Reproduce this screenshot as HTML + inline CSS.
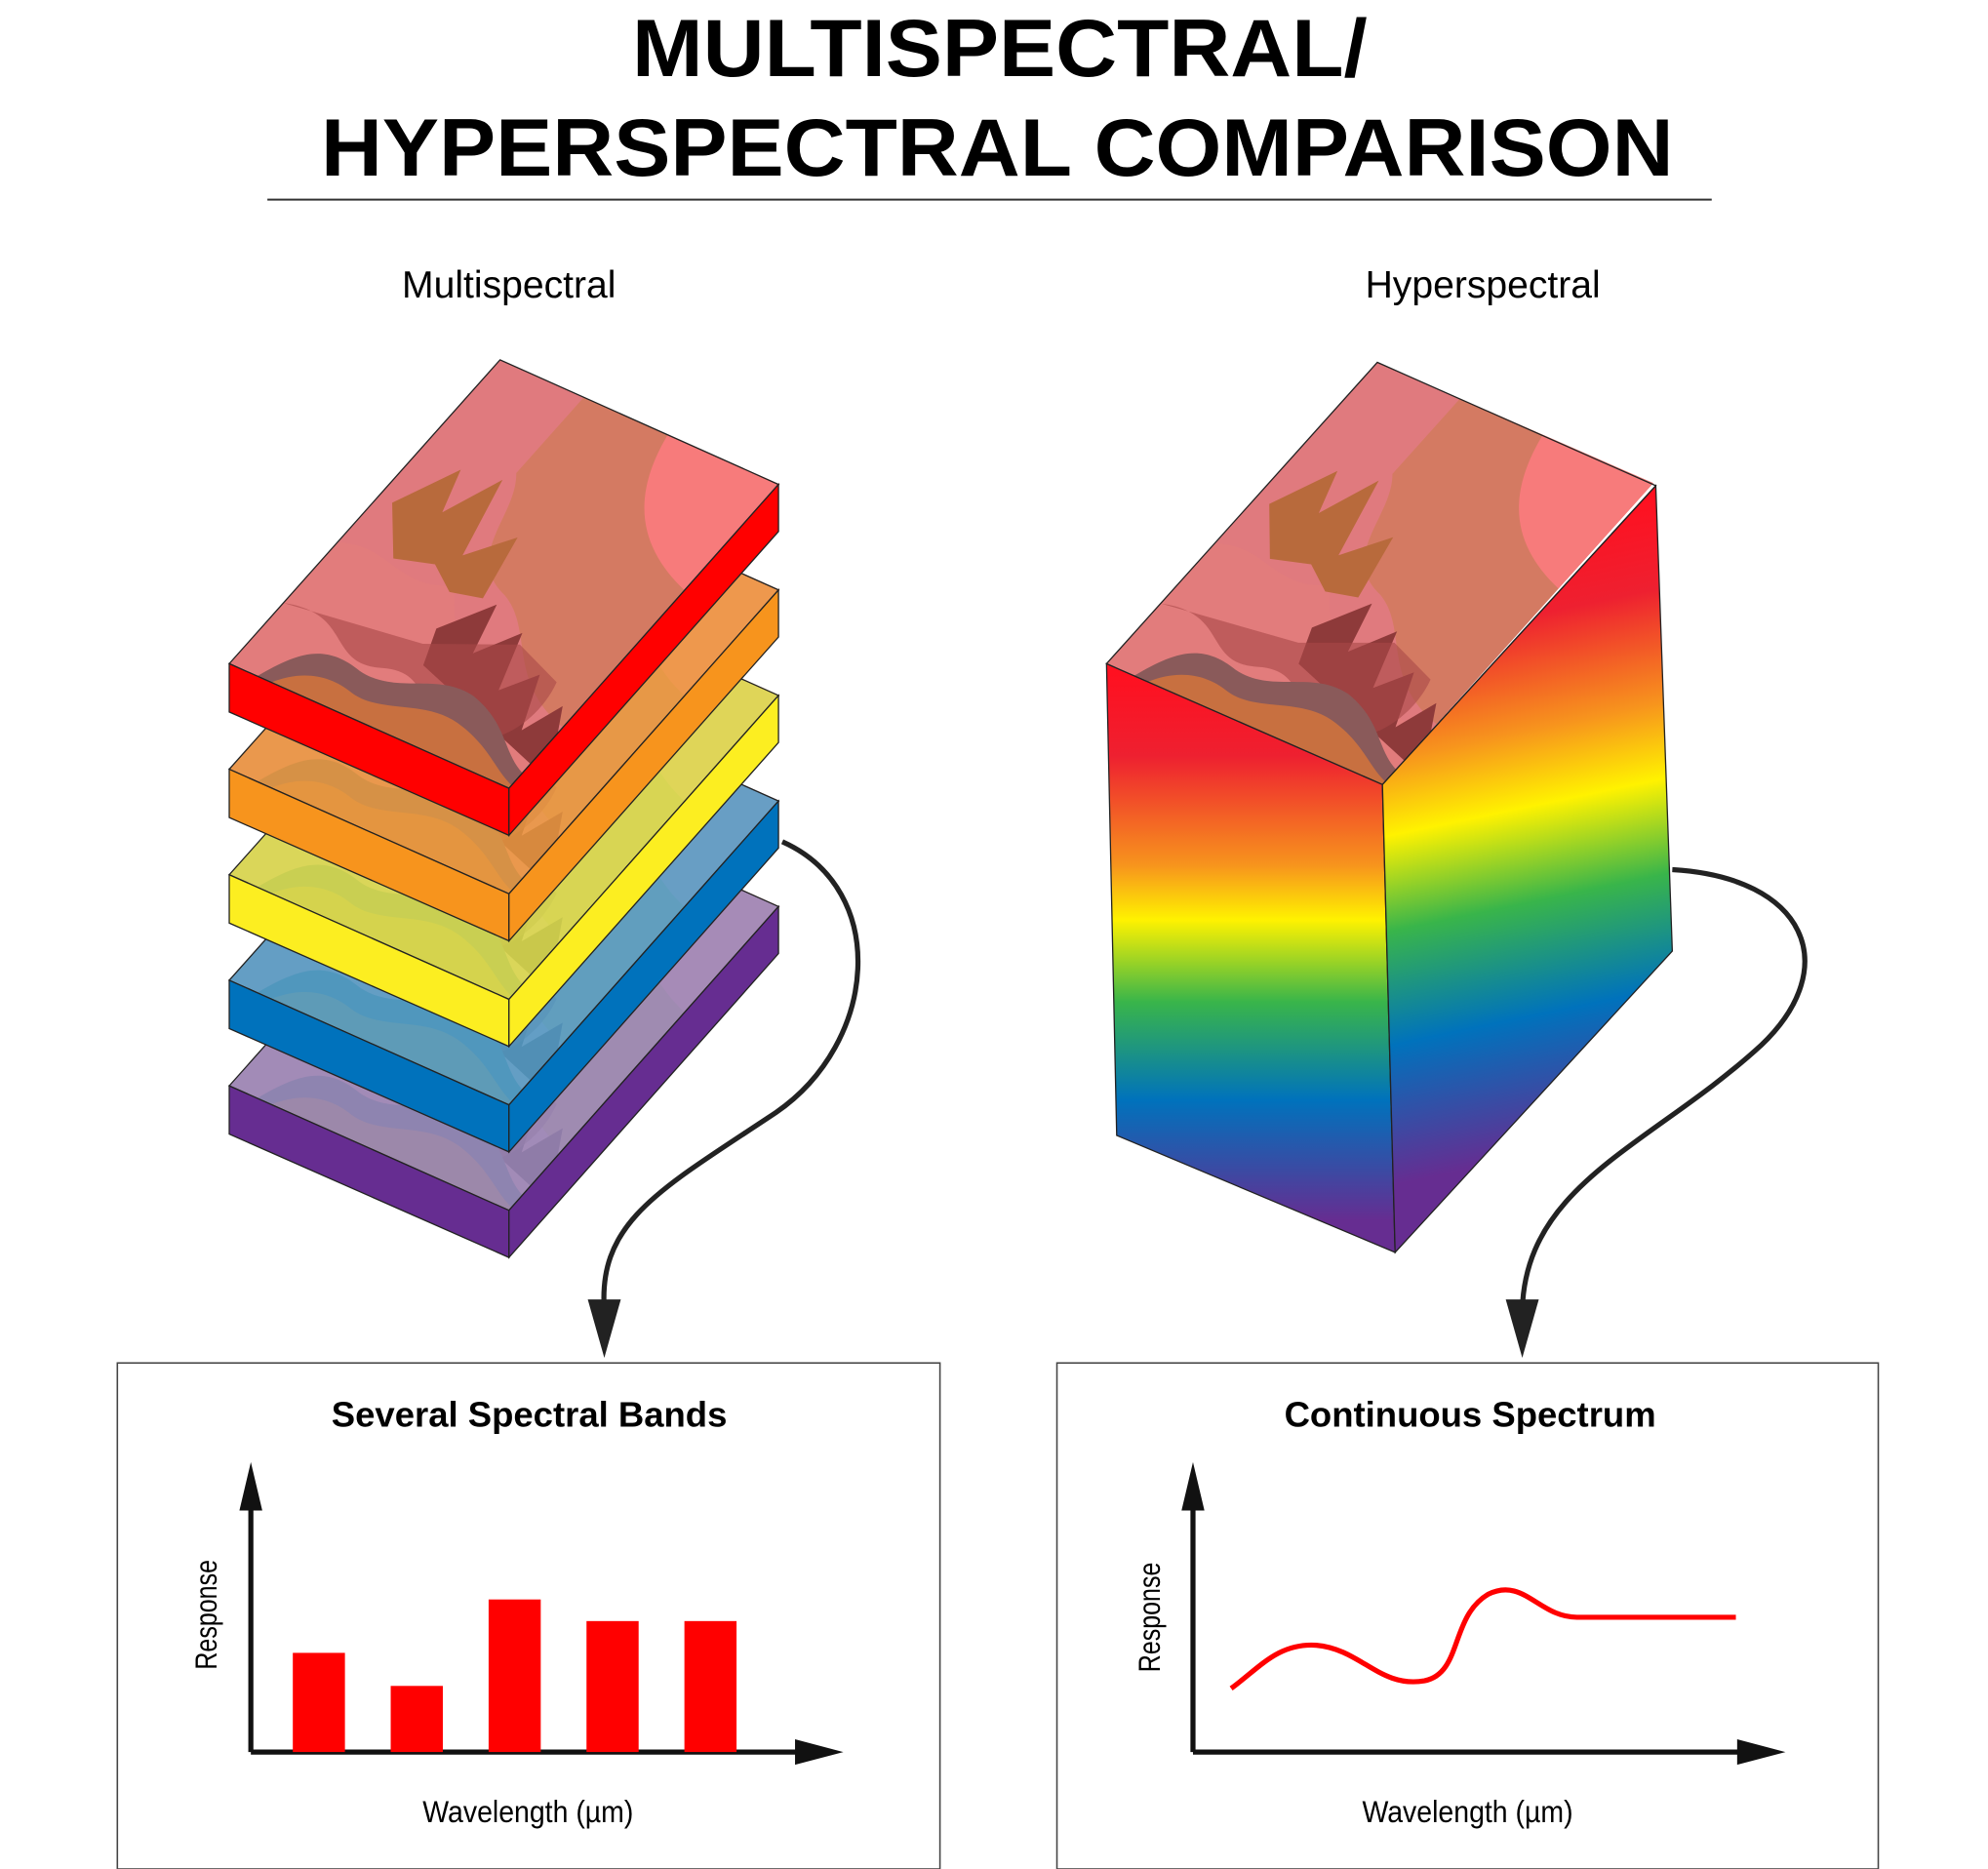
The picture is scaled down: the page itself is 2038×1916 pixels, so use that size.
<!DOCTYPE html>
<html><head><meta charset="utf-8"><style>
html,body{margin:0;padding:0;background:#fff;}
svg{display:block;}
text{font-family:"Liberation Sans",sans-serif;}
</style></head><body>
<svg width="2038" height="1916" viewBox="0 0 1563 1470" xmlns="http://www.w3.org/2000/svg">
<defs>
<g id="scene" stroke="none">
  <rect x="0" y="0" width="100" height="100" fill="#e07a7e"/>
  <path d="M30,100 L30,75 C40,65 35,50 55,45 C70,40 75,25 100,20 L100,100 Z" fill="#d47a62"/>
  <path d="M60,100 C65,80 80,70 100,65 L100,100Z" fill="#f77b7b"/>
  <path d="M0,40 C15,45 25,35 40,42 C50,30 60,25 70,28 C80,20 90,15 100,18 L100,0 L0,0Z" fill="#e27c7c"/>
  <path d="M5,55 L15,70 L20,58 L28,72 L35,50 L45,60 L50,42 L40,40 L30,45 L18,42 Z" fill="#b86a3c"/>
  <path d="M45,30 L55,42 L60,28 L68,38 L75,22 L82,30 L90,15 L95,25 L100,18 L100,8 L50,20Z" fill="#8e3a3a"/>
  <path d="M0,20 C20,25 25,10 40,15 C55,20 60,5 80,8 C88,10 92,20 88,30 L70,35 L45,25Z" fill="#a84848" opacity="0.6"/>
  <path d="M10,0 C15,10 20,15 35,12 C50,10 55,20 70,18 C85,15 90,8 100,5 L100,0Z" fill="#8a5a5a"/>
  <path d="M15,0 C20,6 28,8 38,6 C50,4 58,12 72,10 C85,8 92,3 100,1 L100,0Z" fill="#c87040"/>
</g>
<linearGradient id="rb" gradientUnits="userSpaceOnUse" x1="0" y1="530" x2="0" y2="960">
  <stop offset="0" stop-color="#ff1020"/><stop offset="0.15" stop-color="#ee2030"/>
  <stop offset="0.35" stop-color="#f7941d"/><stop offset="0.45" stop-color="#fff200"/>
  <stop offset="0.6" stop-color="#39b54a"/><stop offset="0.78" stop-color="#0072bc"/>
  <stop offset="1" stop-color="#662d91"/></linearGradient>
<linearGradient id="rb2" gradientUnits="userSpaceOnUse" x1="1150" y1="420" x2="1250" y2="900">
  <stop offset="0" stop-color="#ff1020"/><stop offset="0.15" stop-color="#ee2030"/>
  <stop offset="0.33" stop-color="#f7941d"/><stop offset="0.45" stop-color="#fff200"/>
  <stop offset="0.6" stop-color="#39b54a"/><stop offset="0.78" stop-color="#0072bc"/>
  <stop offset="1" stop-color="#662d91"/></linearGradient>
</defs>

<g font-size="64" font-weight="bold" text-anchor="middle">
<text x="786" y="60" transform="translate(786,0) scale(1.045,1) translate(-786,0)">MULTISPECTRAL/</text>
<text x="784" y="138" transform="translate(784,0) scale(1.045,1) translate(-784,0)">HYPERSPECTRAL COMPARISON</text>
</g>
<line x1="210" y1="157" x2="1346" y2="157" stroke="#333" stroke-width="1.5"/>
<text x="400" y="234" font-size="30" text-anchor="middle">Multispectral</text>
<text x="1166" y="234" font-size="30" text-anchor="middle">Hyperspectral</text>

<g transform="translate(0,332)">
 <g transform="matrix(2.2,0.98,2.13,-2.39,180,522)"><use href="#scene"/><rect width="100" height="100" fill="#9090c8" opacity="0.78"/></g>
 <g stroke="#222" stroke-width="1"><polygon points="180,522 400,620 612,381 393,283" fill="none"/><polygon points="180,522 400,620 400,657 180,560" fill="#662d91"/><polygon points="400,620 612,381 612,418 400,657" fill="#662d91"/></g>
</g>
<g transform="translate(0,249)">
 <g transform="matrix(2.2,0.98,2.13,-2.39,180,522)"><use href="#scene"/><rect width="100" height="100" fill="#40a8d8" opacity="0.78"/></g>
 <g stroke="#222" stroke-width="1"><polygon points="180,522 400,620 612,381 393,283" fill="none"/><polygon points="180,522 400,620 400,657 180,560" fill="#0072bc"/><polygon points="400,620 612,381 612,418 400,657" fill="#0072bc"/></g>
</g>
<g transform="translate(0,166)">
 <g transform="matrix(2.2,0.98,2.13,-2.39,180,522)"><use href="#scene"/><rect width="100" height="100" fill="#d8ec50" opacity="0.8"/></g>
 <g stroke="#222" stroke-width="1"><polygon points="180,522 400,620 612,381 393,283" fill="none"/><polygon points="180,522 400,620 400,657 180,560" fill="#fcee21"/><polygon points="400,620 612,381 612,418 400,657" fill="#fcee21"/></g>
</g>
<g transform="translate(0,83)">
 <g transform="matrix(2.2,0.98,2.13,-2.39,180,522)"><use href="#scene"/><rect width="100" height="100" fill="#eca040" opacity="0.78"/></g>
 <g stroke="#222" stroke-width="1"><polygon points="180,522 400,620 612,381 393,283" fill="none"/><polygon points="180,522 400,620 400,657 180,560" fill="#f7941d"/><polygon points="400,620 612,381 612,418 400,657" fill="#f7941d"/></g>
</g>
<g>
 <g transform="matrix(2.2,0.98,2.13,-2.39,180,522)"><use href="#scene"/></g>
 <g stroke="#222" stroke-width="1"><polygon points="180,522 400,620 612,381 393,283" fill="none"/><polygon points="180,522 400,620 400,657 180,560" fill="#ff0000"/><polygon points="400,620 612,381 612,418 400,657" fill="#ff0000"/></g>
</g>

<g stroke="#222" stroke-width="1">
<polygon points="870,522 1087,617 1097,985 878,893" fill="url(#rb)"/>
<polygon points="1087,617 1302,382 1315,748 1097,985" fill="url(#rb2)"/>
</g>
<g transform="matrix(2.17,0.95,2.13,-2.37,870,522)"><use href="#scene"/></g>
<polygon points="870,522 1087,617 1302,382 1083,285" fill="none" stroke="#222" stroke-width="1"/>

<g fill="none" stroke="#222" stroke-width="4">
<path d="M615,662 C700,700 690,820 610,875 C520,935 470,960 475,1030"/>
<path d="M1315,684 C1420,690 1450,760 1385,822 C1300,900 1200,930 1197,1030"/>
</g>
<polygon points="462,1022 488,1022 475,1068" fill="#222"/>
<polygon points="1184,1022 1210,1022 1197,1068" fill="#222"/>

<rect x="92" y="1072" width="647" height="398" fill="none" stroke="#444" stroke-width="1.2"/>
<rect x="831" y="1072" width="646" height="398" fill="none" stroke="#444" stroke-width="1.2"/>
<g font-weight="bold" font-size="28" text-anchor="middle">
<text x="416" y="1122">Several Spectral Bands</text>
<text x="1156" y="1122">Continuous Spectrum</text>
</g>
<g font-size="24" text-anchor="middle">
<text x="415" y="1433" transform="translate(415,0) scale(0.91,1) translate(-415,0)">Wavelength (µm)</text>
<text x="1154" y="1433" transform="translate(1154,0) scale(0.91,1) translate(-1154,0)">Wavelength (µm)</text>
<text transform="translate(170,1270) rotate(-90) scale(0.8,1)">Response</text>
<text transform="translate(912,1272) rotate(-90) scale(0.8,1)">Response</text>
</g>
<g stroke="#111" stroke-width="4" fill="none">
<path d="M197,1378 V1180 M197,1378 H630"/>
<path d="M938,1378 V1180 M938,1378 H1372"/>
</g>
<g fill="#111">
<polygon points="188,1188 206,1188 197,1150"/><polygon points="625,1368 625,1388 663,1378"/>
<polygon points="929,1188 947,1188 938,1150"/><polygon points="1366,1368 1366,1388 1404,1378"/>
</g>
<g fill="#ff0000">
<rect x="230" y="1300" width="41" height="78"/>
<rect x="307" y="1326" width="41" height="52"/>
<rect x="384" y="1258" width="41" height="120"/>
<rect x="461" y="1275" width="41" height="103"/>
<rect x="538" y="1275" width="41" height="103"/>
</g>
<path d="M968,1328 C990,1312 1005,1292 1035,1294 C1070,1297 1085,1328 1120,1322 C1150,1316 1140,1272 1170,1254 C1198,1240 1210,1272 1240,1272 L1365,1272" fill="none" stroke="#ff0000" stroke-width="4"/>
</svg>
</body></html>
